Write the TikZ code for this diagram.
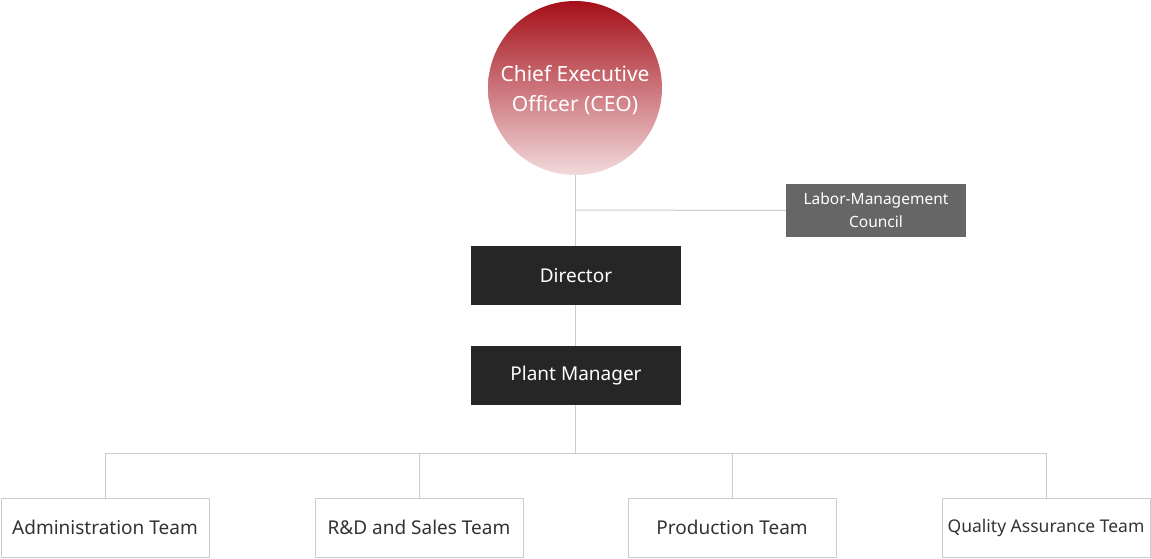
\documentclass[tikz,border=0pt]{standalone}
\usepackage{fontspec}
\setmainfont{Noto Sans}
\definecolor{ceotop}{HTML}{A50F19}
\definecolor{ceobot}{HTML}{F2DADC}
\definecolor{dark}{HTML}{262626}
\definecolor{mid}{HTML}{666666}
\definecolor{ln}{HTML}{CCCCCC}
\definecolor{txt}{HTML}{333333}
\begin{document}
\begin{tikzpicture}[x=1pt,y=-1pt,
  darkbox/.style={fill=dark,minimum width=210pt,minimum height=59pt,text=white,font=\fontsize{19}{22}\selectfont,inner sep=0pt},
  team/.style={draw=ln,fill=white,minimum width=208pt,minimum height=59pt,text=txt,font=\fontsize{19}{22}\selectfont,inner sep=0pt},
  conn/.style={draw=ln,line width=1pt}]
\useasboundingbox (0,0) rectangle (1151,558);
\shade[top color=ceotop,bottom color=ceobot] (575,88) circle (87);
\node[circle,minimum size=174pt,inner sep=0pt] (ceo) at (575,88) {};
\node[text=white,align=center,font=\fontsize{21}{30}\selectfont\bfseries] at (575,90) {Chief Executive\\Officer (CEO)};
\node[fill=mid,minimum width=180pt,minimum height=53pt,text=white,align=center,inner sep=0pt,font=\fontsize{15.5}{23}\selectfont] (lmc) at (876,210.5) {Labor-Management\\Council};
\node[darkbox] (dir) at (576,275.5) {Director};
\node[darkbox] (pm) at (576,375.5) {Plant Manager};
\node[team] (t1) at (105,527.5) {Administration Team};
\node[team] (t2) at (419,527.5) {R\&D and Sales Team};
\node[team] (t3) at (732,527.5) {Production Team};
\node[team,font=\fontsize{17.5}{22}\selectfont] (t4) at (1046,527.5) {Quality Assurance Team};
\coordinate (j1) at (575,210);
\coordinate (j2) at (575,453);
\draw[conn] (ceo.south) -- (dir.north -| ceo.south);
\draw[conn] (j1) -- (lmc.west);
\draw[conn] (dir.south -| ceo.south) -- (pm.north -| ceo.south);
\draw[conn] (pm.south -| ceo.south) -- (j2);
\draw[conn] (t1.north) -- (t1.north |- j2) -- (t4.north |- j2) -- (t4.north);
\draw[conn] (t2.north) -- (t2.north |- j2);
\draw[conn] (t3.north) -- (t3.north |- j2);
\end{tikzpicture}
\end{document}
